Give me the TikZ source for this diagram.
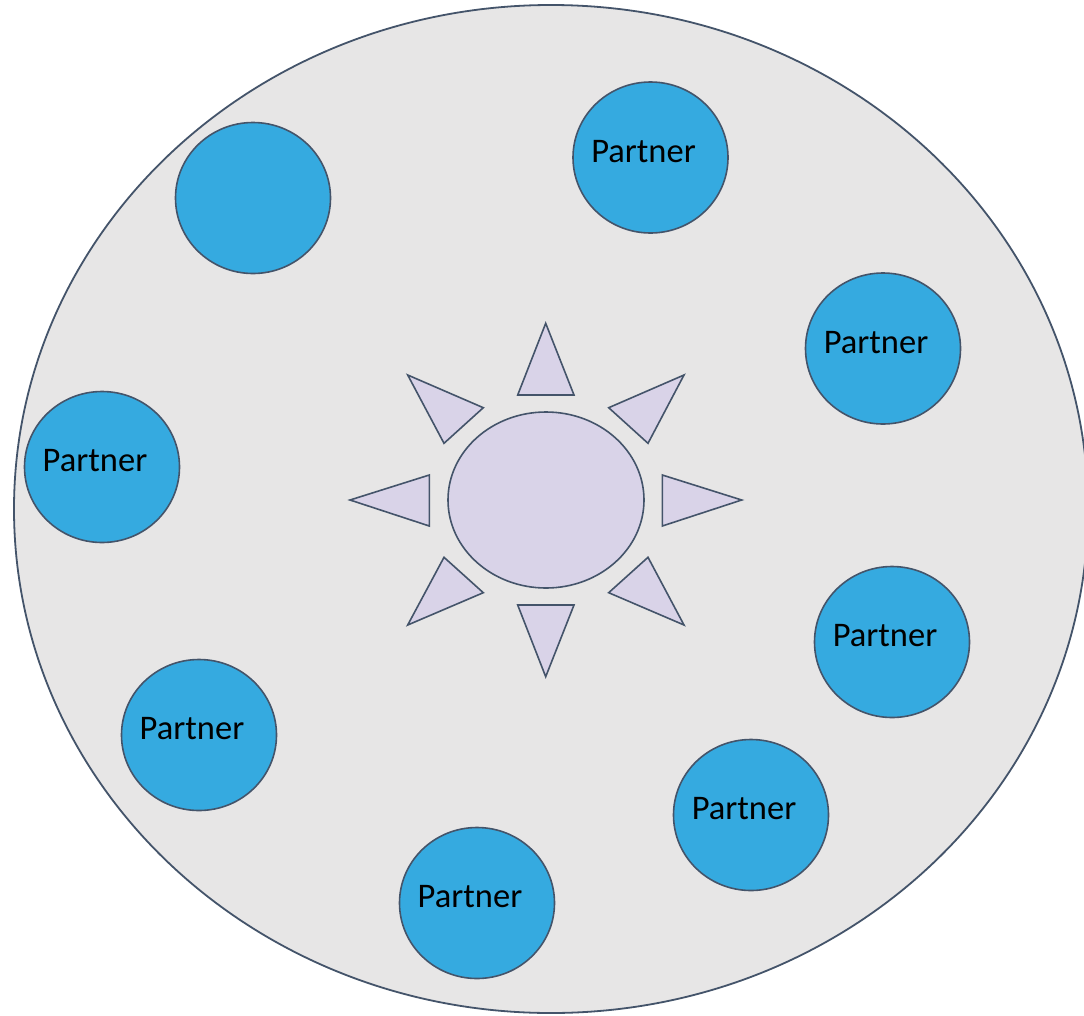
\documentclass[tikz,border=0pt]{standalone}
\usepackage{fontspec}
\setmainfont{Carlito}
\usetikzlibrary{shapes.geometric}
\definecolor{edge}{HTML}{44546A}
\definecolor{bg}{HTML}{E7E6E6}
\definecolor{partner}{HTML}{35AAE0}
\definecolor{sun}{HTML}{D9D3E8}
\tikzset{
  partnerbox/.style={ellipse, draw=edge, line width=1.6pt, fill=partner, minimum width=155pt, minimum height=151pt, inner sep=0pt},
  ptext/.style={font=\fontsize{34.5}{41}\selectfont, text=black, inner sep=0pt},
  ray/.style={draw=edge, line width=1.6pt, fill=sun, line join=miter},
}
\begin{document}
\begin{tikzpicture}[x=1pt, y=-1pt]
\useasboundingbox (0,0) rectangle (1084,1015);
\fill[white] (0,0) rectangle (1084,1015);
\node[ellipse, draw=edge, line width=1.8pt, fill=bg, minimum width=1074pt, minimum height=1008pt, inner sep=0pt] (world) at (551,509) {};
% sun
\node[ellipse, ray, minimum width=196pt, minimum height=176pt, inner sep=0pt] (core) at (546,500) {};
\draw[ray] (545.7,323.3) -- (574,395) -- (517.7,395) -- cycle;
\draw[ray] (545.7,676.7) -- (574,605) -- (517.7,605) -- cycle;
\draw[ray] (350,500) -- (429.3,475) -- (429.3,526) -- cycle;
\draw[ray] (741.7,500) -- (662.3,475) -- (662.3,526) -- cycle;
\draw[ray] (407.7,375) -- (483.3,407.7) -- (444,443.3) -- cycle;
\draw[ray] (684,375) -- (608.7,407.7) -- (648,443.3) -- cycle;
\draw[ray] (444,557.3) -- (483.3,592.7) -- (407.7,625) -- cycle;
\draw[ray] (648,557.3) -- (608.7,592.7) -- (684,625) -- cycle;
% partners
\node[partnerbox] (p1) at (650.5,157.5) {};
\node[partnerbox] (p0) at (253,198) {};
\node[partnerbox] (p2) at (883,348.5) {};
\node[partnerbox] (p3) at (102,467) {};
\node[partnerbox] (p4) at (892,642) {};
\node[partnerbox] (p5) at (199,735) {};
\node[partnerbox] (p6) at (751,815) {};
\node[partnerbox] (p7) at (477,903) {};
\foreach \p in {p1,p2,p3,p4,p5,p6,p7}{
  \node[ptext] (\p t) at ([shift={(-7,-6)}]\p.center) {Partner};
}
\end{tikzpicture}
\end{document}
